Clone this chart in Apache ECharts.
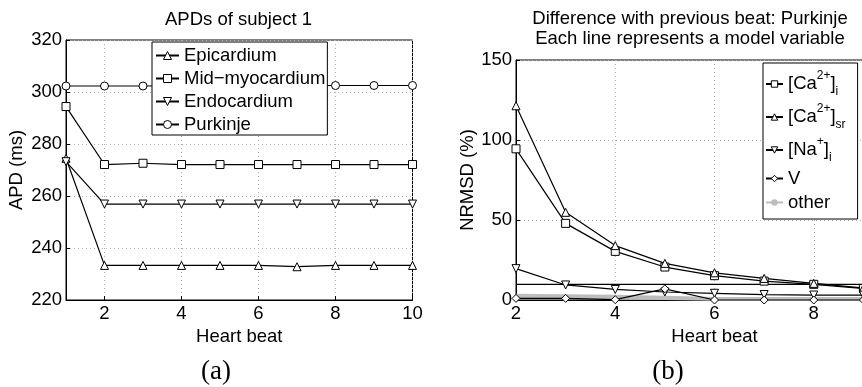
<!DOCTYPE html>
<html>
<head>
<meta charset="utf-8">
<script src="https://cdn.jsdelivr.net/npm/echarts@6/dist/echarts.min.js"></script>
<style>html,body{margin:0;padding:0;background:#fff}#c{width:862px;height:387px}</style>
</head>
<body>
<div id="c"></div>
<script>
// ---- Panel (a) data ----
var beatsA = [1, 2, 3, 4, 5, 6, 7, 8, 9, 10];
var epicardium = [274.5, 233.3, 233.3, 233.3, 233.3, 233.3, 232.8, 233.3, 233.3, 233.3];
var midMyocardium = [294.4, 272.1, 272.6, 272.1, 272.1, 272.1, 272.1, 272.1, 272.1, 272.1];
var endocardium = [273.2, 256.9, 256.9, 256.9, 256.9, 256.9, 256.9, 256.9, 256.9, 256.9];
var purkinje = [302.3, 302.3, 302.3, 302.4, 302.4, 302.4, 302.4, 302.5, 302.5, 302.5];
var ticksAX = [2, 4, 6, 8, 10];

// ---- Panel (b) data ----
var beatsB = [2, 3, 4, 5, 6, 7, 8, 9, 10];
var caI = [94.5, 47.9, 30.4, 20.6, 15.2, 11.8, 9.8, 7.2, 6.0];
var caSr = [121.4, 54.8, 34.0, 22.9, 17.0, 13.5, 10.4, 7.5, 6.2];
var naI = [19.6, 9.4, 6.6, 5.0, 4.2, 3.4, 3.1, 3.0, 2.9];
var vMem = [1.0, 1.0, 0.2, 7.0, 0.0, 0.0, 0.0, 0.0, 0.0];
var threshold = [9.8, 9.8, 9.8, 9.8, 9.8, 9.8, 9.8, 9.8, 9.8];
var other1 = [3.3, 3.0, 2.7, 2.0, 1.3, 1.2, 1.2, 1.2, 1.2];
var other2 = [2.4, 2.1, 1.8, 1.2, 0.6, 0.6, 0.6, 0.6, 0.6];
var other3 = [1.5, 1.3, 1.0, 0.6, 0.2, 0.2, 0.2, 0.2, 0.2];

var FONT = 'Liberation Sans, Arial, Helvetica, sans-serif';
var SERIF = 'Liberation Serif, Times New Roman, serif';
var FS = 18.5;

function pairs(xs, ys) { return xs.map(function (x, i) { return [x, ys[i]]; }); }

function mk(name, xi, xs, ys, symbol, rotate) {
  return {
    name: name, type: 'line', xAxisIndex: xi, yAxisIndex: xi,
    data: pairs(xs, ys),
    symbol: symbol, symbolSize: 8, symbolRotate: rotate || 0,
    showAllSymbol: true,
    lineStyle: { color: '#000', width: 1.2 },
    itemStyle: { color: '#fff', borderColor: '#000', borderWidth: 1 },
    emphasis: { disabled: true },
    animation: false, z: 3
  };
}
function gray(ys) {
  return {
    name: 'other', type: 'line', xAxisIndex: 1, yAxisIndex: 1,
    data: pairs(beatsB, ys), symbol: 'none',
    lineStyle: { color: '#bdbdbd', width: 2 },
    itemStyle: { color: '#bdbdbd' },
    emphasis: { disabled: true }, animation: false, z: 2
  };
}

var axisText = { color: '#000', fontSize: FS, fontFamily: FONT };
var gridLine = { show: true, lineStyle: { color: '#b0b0b0', type: [1, 3], width: 1 } };
var hollow = { color: '#fff', borderColor: '#000', borderWidth: 1 };

var legendNames = {
  'caI': '{n|[Ca}{sup|2+}{n|]}{sub|i}',
  'caSr': '{n|[Ca}{sup|2+}{n|]}{sub|sr}',
  'naI': '{n|[Na}{sup|+}{n|]}{sub|i}',
  'V': '{s|V}',
  'other': '{s|other}'
};

var option = {
  animation: false,
  backgroundColor: '#fff',
  grid: [
    { left: 66, top: 40, width: 346.5, height: 260, show: true, borderColor: '#000', borderWidth: 1, backgroundColor: 'transparent', outerBoundsMode: 'none', containLabel: false },
    { left: 516, top: 60, width: 397, height: 240, show: true, borderColor: '#000', borderWidth: 1, backgroundColor: 'transparent', outerBoundsMode: 'none', containLabel: false }
  ],
  xAxis: [
    { type: 'value', gridIndex: 0, min: 1, max: 10,
      name: 'Heart beat', nameLocation: 'middle', nameGap: 22, nameTextStyle: axisText,
      axisLine: { lineStyle: { color: '#000' } },
      axisTick: { inside: true, length: 4, customValues: ticksAX, lineStyle: { color: '#000' } },
      axisLabel: Object.assign({ margin: 4, customValues: ticksAX }, axisText),
      splitLine: gridLine },
    { type: 'value', gridIndex: 1, min: 2, max: 10, interval: 2,
      name: 'Heart beat', nameLocation: 'middle', nameGap: 22, nameTextStyle: axisText,
      axisLine: { lineStyle: { color: '#000' } },
      axisTick: { inside: true, length: 4, lineStyle: { color: '#000' } },
      axisLabel: Object.assign({ margin: 4 }, axisText),
      splitLine: gridLine }
  ],
  yAxis: [
    { type: 'value', gridIndex: 0, min: 220, max: 320, interval: 20,
      name: 'APD (ms)', nameLocation: 'middle', nameGap: 40, nameTextStyle: axisText,
      axisLine: { show: true, lineStyle: { color: '#000' } },
      axisTick: { show: true, inside: true, length: 4, lineStyle: { color: '#000' } },
      axisLabel: Object.assign({ margin: 4 }, axisText),
      splitLine: gridLine },
    { type: 'value', gridIndex: 1, min: 0, max: 150, interval: 50,
      name: 'NRMSD (%)', nameLocation: 'middle', nameGap: 38, nameTextStyle: axisText,
      axisLine: { show: true, lineStyle: { color: '#000' } },
      axisTick: { show: true, inside: true, length: 4, lineStyle: { color: '#000' } },
      axisLabel: Object.assign({ margin: 4 }, axisText),
      splitLine: gridLine }
  ],
  legend: [
    { data: ['Epicardium', 'Mid\u2212myocardium', 'Endocardium', 'Purkinje'],
      orient: 'vertical', left: 152, top: 42, itemWidth: 23, itemHeight: 10, itemGap: 4,
      padding: [4, 2, 1, 3], borderColor: '#000', borderWidth: 1, borderRadius: 0, backgroundColor: '#fff',
      itemStyle: hollow,
      textStyle: { color: '#000', fontSize: FS, fontFamily: FONT, lineHeight: 18.5 },
      selectedMode: false, z: 10 },
    { data: [
        { name: 'caI', itemStyle: hollow },
        { name: 'caSr', itemStyle: hollow },
        { name: 'naI', itemStyle: hollow },
        { name: 'V', itemStyle: hollow },
        { name: 'other' }
      ],
      orient: 'vertical', left: 763, top: 63, itemWidth: 17, itemHeight: 8, itemGap: 5,
      padding: [7, 12, 7, 2], borderColor: '#000', borderWidth: 1, borderRadius: 0, backgroundColor: '#fff',
      formatter: function (n) { return legendNames[n]; },
      textStyle: { color: '#000', fontSize: FS, fontFamily: FONT,
        rich: {
          n: { fontSize: FS, fontFamily: FONT, color: '#000', lineHeight: 28 },
          sup: { fontSize: 12, fontFamily: FONT, color: '#000', verticalAlign: 'top', lineHeight: 28 },
          sub: { fontSize: 12, fontFamily: FONT, color: '#000', verticalAlign: 'bottom', lineHeight: 28 },
          s: { fontSize: FS, fontFamily: FONT, color: '#000', lineHeight: 19 }
        } },
      selectedMode: false, z: 10 }
  ],
  series: [
    mk('Epicardium', 0, beatsA, epicardium, 'triangle'),
    mk('Mid\u2212myocardium', 0, beatsA, midMyocardium, 'rect'),
    mk('Endocardium', 0, beatsA, endocardium, 'triangle', 180),
    mk('Purkinje', 0, beatsA, purkinje, 'circle'),
    gray(other1), gray(other2), gray(other3),
    { name: 'threshold', type: 'line', xAxisIndex: 1, yAxisIndex: 1, data: pairs(beatsB, threshold),
      symbol: 'none', lineStyle: { color: '#000', width: 1.2 }, emphasis: { disabled: true }, animation: false, z: 3 },
    mk('caI', 1, beatsB, caI, 'rect'),
    mk('caSr', 1, beatsB, caSr, 'triangle'),
    mk('naI', 1, beatsB, naI, 'triangle', 180),
    mk('V', 1, beatsB, vMem, 'diamond')
  ],
  graphic: [
    { type: 'text', x: 238.5, y: 20, style: { text: 'APDs of subject 1', font: FS + 'px ' + FONT, fill: '#000', textAlign: 'center', textVerticalAlign: 'middle', align: 'center', verticalAlign: 'middle' } },
    { type: 'text', x: 690, y: 19, style: { text: 'Difference with previous beat: Purkinje', font: FS + 'px ' + FONT, fill: '#000', textAlign: 'center', textVerticalAlign: 'middle', align: 'center', verticalAlign: 'middle' } },
    { type: 'text', x: 690, y: 38.5, style: { text: 'Each line represents a model variable', font: FS + 'px ' + FONT, fill: '#000', textAlign: 'center', textVerticalAlign: 'middle', align: 'center', verticalAlign: 'middle' } },
    { type: 'text', x: 216, y: 372, style: { text: '(a)', font: '27px ' + SERIF, fill: '#000', textAlign: 'center', textVerticalAlign: 'middle', align: 'center', verticalAlign: 'middle' } },
    { type: 'text', x: 668, y: 372, style: { text: '(b)', font: '27px ' + SERIF, fill: '#000', textAlign: 'center', textVerticalAlign: 'middle', align: 'center', verticalAlign: 'middle' } }
  ]
};
var chart = echarts.init(document.getElementById('c'), null, { renderer: 'canvas' });
chart.setOption(option);
</script>
</body>
</html>
